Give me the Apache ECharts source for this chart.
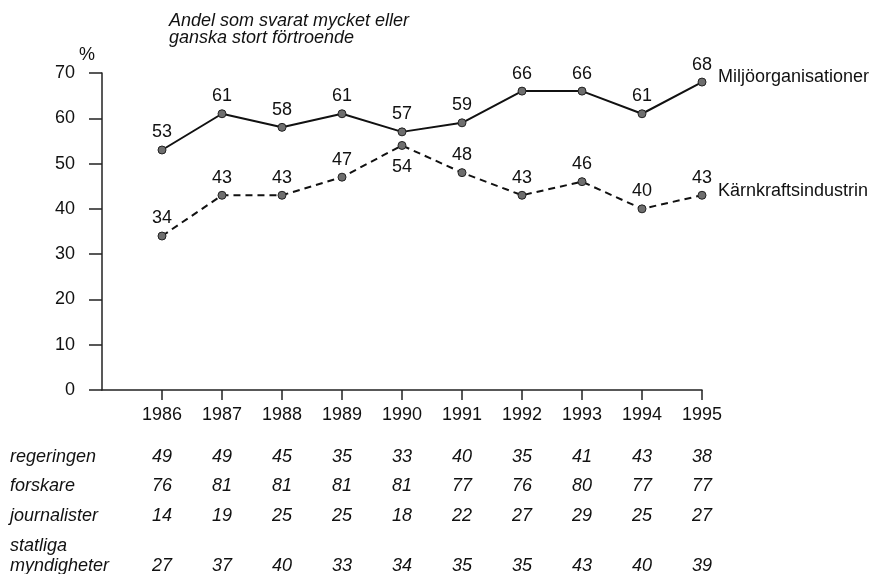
<!DOCTYPE html>
<html>
<head>
<meta charset="utf-8">
<script src="https://cdn.jsdelivr.net/npm/echarts@6/dist/echarts.min.js"></script>
<style>
  html, body { margin: 0; padding: 0; background: #fff; }
  #chart { width: 871px; height: 574px; }
</style>
</head>
<body>
<div id="chart"></div>
<script>
// years on the x axis
var years = [1986, 1987, 1988, 1989, 1990, 1991, 1992, 1993, 1994, 1995];

// plotted series (% with great or rather great confidence)
var miljo = [53, 61, 58, 61, 57, 59, 66, 66, 61, 68];
var karnkraft = [34, 43, 43, 47, 54, 48, 43, 46, 40, 43];

// table rows under the chart
var regeringen = [49, 49, 45, 35, 33, 40, 35, 41, 43, 38];
var forskare = [76, 81, 81, 81, 81, 77, 76, 80, 77, 77];
var journalister = [14, 19, 25, 25, 18, 22, 27, 29, 25, 27];
var myndigheter = [27, 37, 40, 33, 34, 35, 35, 43, 40, 39];

var yTicks = [0, 10, 20, 30, 40, 50, 60, 70];

var FONT = '"Liberation Sans", Arial, Helvetica, sans-serif';
var FS = 18;
var INK = '#111';

function pairs(vals) {
    return years.map(function(y, i) { return [y, vals[i]]; });
}

// one extra x axis per table row, the row text is the axis name
function tableAxis(name, vals, offset) {
    return {
        type: 'value', gridIndex: 0, position: 'bottom',
        min: 1985, max: 1995, interval: 1, offset: offset,
        name: name, nameLocation: 'start', nameGap: 92,
        nameTextStyle: { align: 'left', verticalAlign: 'middle', fontStyle: 'italic',
            fontFamily: FONT, fontSize: FS, color: INK },
        axisLine: { show: false }, axisTick: { show: false }, splitLine: { show: false },
        axisLabel: {
            customValues: vals ? years : [],
            margin: 0, verticalAlign: 'middle', fontStyle: 'italic',
            fontFamily: FONT, fontSize: FS, color: INK,
            formatter: function(v) {
                var i = years.indexOf(Math.round(v));
                return (vals && i >= 0) ? String(vals[i]) : '';
            }
        }
    };
}

var chart = echarts.init(document.getElementById('chart'), null, { renderer: 'canvas' });

var symbolStyle = { color: '#6e6e6e', borderColor: '#222', borderWidth: 1 };
var labelStyle = { show: true, position: 'top', distance: 4, fontFamily: FONT, fontSize: FS, color: INK };

chart.setOption({
    animation: false,
    backgroundColor: '#fff',
    title: {
        text: 'Andel som svarat mycket eller\nganska stort förtroende',
        left: 164, top: 7,
        textStyle: { fontFamily: FONT, fontSize: FS, fontStyle: 'italic', fontWeight: 'normal',
            color: INK, lineHeight: 17 }
    },
    grid: { left: 102, right: 169, top: 73, bottom: 184, outerBoundsMode: 'none' },
    xAxis: [
        {
            type: 'value', min: 1985, max: 1995, interval: 1,
            axisLine: { show: true, lineStyle: { color: '#222', width: 1.5 } },
            axisTick: { show: true, customValues: years, length: 10, lineStyle: { color: '#222', width: 1.5 } },
            axisLabel: { customValues: years, margin: 16, fontFamily: FONT, fontSize: FS, color: INK,
                formatter: function(v) { return String(v); } },
            splitLine: { show: false }
        },
        tableAxis('regeringen', regeringen, 67),
        tableAxis('forskare', forskare, 96),
        tableAxis('journalister', journalister, 126),
        tableAxis('statliga', null, 156),
        tableAxis('myndigheter', myndigheter, 176)
    ],
    yAxis: {
        type: 'value', min: 0, max: 70, interval: 10,
        name: '%', nameLocation: 'end', nameGap: 9,
        nameTextStyle: { align: 'right', padding: [0, 7, 0, 0], fontFamily: FONT, fontSize: FS, color: INK },
        axisLine: { show: true, lineStyle: { color: '#222', width: 1.5 } },
        axisTick: { show: true, length: 13, lineStyle: { color: '#222', width: 1.5 } },
        axisLabel: { margin: 27, fontFamily: FONT, fontSize: FS, color: INK,
            formatter: function(v) { return yTicks.indexOf(v) >= 0 ? String(v) : ''; } },
        splitLine: { show: false }
    },
    series: [
        {
            name: 'Miljöorganisationer',
            type: 'line',
            data: pairs(miljo),
            symbol: 'circle', symbolSize: 8,
            itemStyle: symbolStyle,
            lineStyle: { color: INK, width: 2, type: 'solid' },
            label: labelStyle,
            endLabel: { show: true, formatter: '{a}', offset: [8, -5], fontFamily: FONT, fontSize: FS, color: INK }
        },
        {
            name: 'Kärnkraftsindustrin',
            type: 'line',
            data: pairs(karnkraft).map(function(p) {
                // 1990 value is written below the point where the lines cross
                if (p[0] === 1990) {
                    return { value: p, label: { position: 'bottom', distance: 8 } };
                }
                return p;
            }),
            symbol: 'circle', symbolSize: 8,
            itemStyle: symbolStyle,
            lineStyle: { color: INK, width: 2, type: [7, 5] },
            label: labelStyle,
            endLabel: { show: true, formatter: '{a}', offset: [8, -4], fontFamily: FONT, fontSize: FS, color: INK }
        }
    ]
});
</script>
</body>
</html>
